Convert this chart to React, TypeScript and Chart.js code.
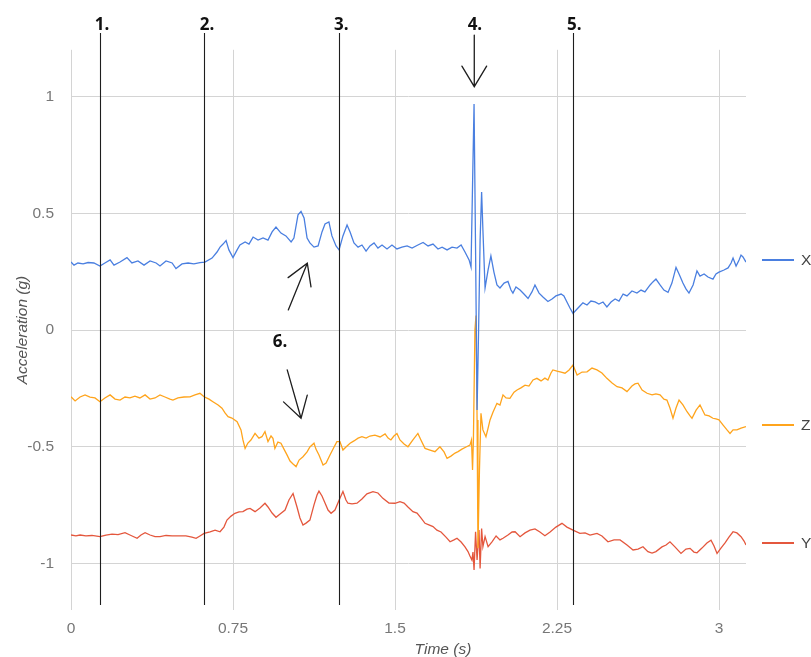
import React, { useEffect, useRef } from "react";
import { Chart, registerables } from "chart.js";

Chart.register(...registerables);

// ---------- data (time in s, acceleration in g) ----------
const xTimes = [
  0, 0.014, 0.032, 0.056, 0.079, 0.106, 0.134, 0.157, 0.181, 0.199,
  0.227, 0.259, 0.282, 0.31, 0.338, 0.366, 0.394, 0.412, 0.44, 0.468,
  0.486, 0.514, 0.542, 0.569, 0.597, 0.62, 0.653, 0.676, 0.69, 0.704,
  0.718, 0.731, 0.75, 0.769, 0.782, 0.806, 0.824, 0.843, 0.866, 0.889,
  0.912, 0.931, 0.949, 0.972, 0.995, 1.019, 1.032, 1.051, 1.065, 1.079,
  1.093, 1.106, 1.125, 1.144, 1.162, 1.176, 1.194, 1.208, 1.227, 1.241,
  1.259, 1.278, 1.292, 1.31, 1.329, 1.347, 1.366, 1.384, 1.403, 1.421,
  1.44, 1.463, 1.486, 1.509, 1.532, 1.556, 1.579, 1.606, 1.63, 1.653,
  1.676, 1.699, 1.718, 1.741, 1.764, 1.787, 1.806, 1.824, 1.843, 1.852,
  1.859, 1.866, 1.873, 1.88, 1.887, 1.894, 1.901, 1.907, 1.917, 1.931,
  1.944, 1.958, 1.972, 1.986, 2.005, 2.023, 2.037, 2.046, 2.06, 2.079,
  2.097, 2.116, 2.134, 2.148, 2.167, 2.185, 2.208, 2.227, 2.245, 2.269,
  2.282, 2.296, 2.31, 2.324, 2.343, 2.356, 2.37, 2.389, 2.407, 2.426,
  2.444, 2.463, 2.481, 2.5, 2.519, 2.537, 2.556, 2.574, 2.597, 2.62,
  2.639, 2.657, 2.681, 2.694, 2.708, 2.727, 2.745, 2.764, 2.782, 2.801,
  2.815, 2.833, 2.847, 2.861, 2.88, 2.898, 2.912, 2.931, 2.949, 2.972,
  2.986, 3.0, 3.023, 3.042, 3.056, 3.065, 3.079, 3.093, 3.102, 3.111,
  3.125,
];
const xValues = [
  0.291, 0.278, 0.287, 0.283, 0.289, 0.287, 0.274, 0.287, 0.3, 0.278,
  0.291, 0.31, 0.287, 0.296, 0.278, 0.296, 0.287, 0.274, 0.296, 0.287,
  0.263, 0.283, 0.287, 0.283, 0.289, 0.291, 0.308, 0.334, 0.355, 0.368,
  0.383, 0.343, 0.31, 0.343, 0.364, 0.377, 0.368, 0.398, 0.385, 0.394,
  0.385, 0.42, 0.441, 0.415, 0.403, 0.377, 0.394, 0.493, 0.508, 0.48,
  0.394, 0.373, 0.355, 0.36, 0.42, 0.454, 0.463, 0.403, 0.36, 0.343,
  0.403, 0.45, 0.42, 0.373, 0.355, 0.364, 0.338, 0.36, 0.373, 0.351,
  0.364, 0.347, 0.364, 0.347, 0.355, 0.36, 0.351, 0.364, 0.375, 0.36,
  0.368, 0.347, 0.355, 0.343, 0.355, 0.351, 0.364, 0.334, 0.3, 0.27,
  0.62, 0.968, 0.343, -0.343, 0.0, 0.385, 0.591, 0.428, 0.18, 0.257,
  0.317, 0.248, 0.193, 0.18, 0.201, 0.208, 0.171, 0.158, 0.184, 0.171,
  0.154, 0.135, 0.163, 0.193, 0.158, 0.141, 0.122, 0.133, 0.146, 0.154,
  0.146, 0.12, 0.094, 0.071, 0.09, 0.103, 0.116, 0.107, 0.124, 0.12,
  0.111, 0.12, 0.099, 0.12, 0.133, 0.124, 0.154, 0.146, 0.167, 0.158,
  0.171, 0.163, 0.193, 0.206, 0.218, 0.193, 0.171, 0.161, 0.201, 0.268,
  0.24, 0.201, 0.176, 0.158, 0.193, 0.253, 0.231, 0.24, 0.227, 0.218,
  0.24, 0.248, 0.257, 0.266, 0.287, 0.308, 0.274, 0.3, 0.321, 0.313,
  0.291,
];

const zTimes = [
  0, 0.019, 0.042, 0.065, 0.088, 0.111, 0.134, 0.157, 0.181, 0.204,
  0.227, 0.25, 0.273, 0.296, 0.319, 0.343, 0.366, 0.389, 0.412, 0.435,
  0.458, 0.472, 0.495, 0.523, 0.551, 0.574, 0.597, 0.616, 0.639, 0.657,
  0.681, 0.699, 0.713, 0.727, 0.745, 0.769, 0.787, 0.796, 0.806, 0.819,
  0.833, 0.852, 0.87, 0.884, 0.898, 0.912, 0.926, 0.935, 0.944, 0.958,
  0.972, 0.986, 1.0, 1.014, 1.028, 1.042, 1.056, 1.074, 1.093, 1.106,
  1.125, 1.134, 1.148, 1.167, 1.181, 1.199, 1.218, 1.231, 1.245, 1.259,
  1.273, 1.292, 1.31, 1.329, 1.347, 1.366, 1.384, 1.407, 1.431, 1.454,
  1.468, 1.481, 1.495, 1.509, 1.523, 1.542, 1.56, 1.583, 1.606, 1.62,
  1.639, 1.662, 1.685, 1.708, 1.727, 1.741, 1.759, 1.778, 1.792, 1.81,
  1.829, 1.847, 1.854, 1.859, 1.863, 1.87, 1.875, 1.88, 1.884, 1.891,
  1.898, 1.907, 1.921, 1.931, 1.94, 1.954, 1.972, 1.986, 2.0, 2.014,
  2.032, 2.051, 2.065, 2.083, 2.102, 2.12, 2.139, 2.157, 2.176, 2.194,
  2.208, 2.222, 2.231, 2.25, 2.269, 2.287, 2.306, 2.324, 2.343, 2.366,
  2.389, 2.412, 2.435, 2.458, 2.481, 2.505, 2.528, 2.551, 2.574, 2.597,
  2.611, 2.625, 2.644, 2.667, 2.69, 2.708, 2.727, 2.745, 2.759, 2.773,
  2.787, 2.801, 2.815, 2.833, 2.852, 2.866, 2.875, 2.894, 2.912, 2.935,
  2.954, 2.972, 2.986, 3.0, 3.019, 3.037, 3.051, 3.065, 3.083, 3.102,
  3.125,
];
const zValues = [
  -0.286, -0.304, -0.287, -0.278, -0.287, -0.291, -0.307, -0.291, -0.278, -0.296,
  -0.3, -0.287, -0.291, -0.283, -0.291, -0.278, -0.296, -0.291, -0.278, -0.287,
  -0.296, -0.3, -0.291, -0.287, -0.286, -0.278, -0.271, -0.286, -0.296, -0.307,
  -0.321, -0.335, -0.355, -0.371, -0.377, -0.393, -0.428, -0.471, -0.507, -0.484,
  -0.471, -0.443, -0.463, -0.457, -0.435, -0.478, -0.454, -0.464, -0.507, -0.48,
  -0.485, -0.51, -0.535, -0.561, -0.574, -0.585, -0.557, -0.543, -0.522, -0.501,
  -0.485, -0.51, -0.535, -0.578, -0.57, -0.535, -0.501, -0.478, -0.478, -0.514,
  -0.501, -0.485, -0.475, -0.463, -0.457, -0.463, -0.454, -0.45, -0.458, -0.445,
  -0.463, -0.471, -0.454, -0.443, -0.471, -0.488, -0.5, -0.471, -0.443, -0.471,
  -0.507, -0.514, -0.521, -0.5, -0.522, -0.55, -0.54, -0.527, -0.521, -0.51,
  -0.501, -0.493, -0.471, -0.6, -0.471, 0.0, 0.062, -0.385, -0.934, -0.6,
  -0.357, -0.428, -0.457, -0.42, -0.385, -0.351, -0.314, -0.321, -0.278, -0.291,
  -0.293, -0.266, -0.257, -0.248, -0.236, -0.24, -0.214, -0.207, -0.218, -0.206,
  -0.214, -0.184, -0.171, -0.176, -0.18, -0.185, -0.171, -0.15, -0.193, -0.18,
  -0.179, -0.163, -0.171, -0.184, -0.207, -0.227, -0.243, -0.248, -0.264, -0.24,
  -0.231, -0.228, -0.257, -0.271, -0.278, -0.274, -0.278, -0.296, -0.3, -0.334,
  -0.378, -0.334, -0.3, -0.321, -0.35, -0.368, -0.378, -0.343, -0.321, -0.364,
  -0.368, -0.378, -0.381, -0.385, -0.407, -0.428, -0.443, -0.428, -0.428, -0.42,
  -0.414,
];

const yTimes = [
  0, 0.023, 0.042, 0.069, 0.097, 0.134, 0.162, 0.19, 0.218, 0.25,
  0.273, 0.306, 0.324, 0.343, 0.366, 0.389, 0.412, 0.44, 0.468, 0.505,
  0.532, 0.56, 0.579, 0.597, 0.616, 0.644, 0.667, 0.69, 0.708, 0.722,
  0.741, 0.759, 0.778, 0.796, 0.815, 0.829, 0.852, 0.875, 0.898, 0.912,
  0.931, 0.949, 0.968, 0.991, 1.009, 1.028, 1.046, 1.06, 1.074, 1.088,
  1.106, 1.125, 1.139, 1.148, 1.162, 1.176, 1.19, 1.204, 1.222, 1.245,
  1.259, 1.273, 1.282, 1.301, 1.324, 1.347, 1.37, 1.398, 1.421, 1.444,
  1.472, 1.5, 1.523, 1.542, 1.56, 1.583, 1.602, 1.62, 1.639, 1.657,
  1.676, 1.694, 1.713, 1.736, 1.755, 1.773, 1.787, 1.806, 1.824, 1.838,
  1.847, 1.856, 1.861, 1.866, 1.873, 1.88, 1.889, 1.894, 1.901, 1.907,
  1.917, 1.931, 1.949, 1.968, 1.986, 2.0, 2.023, 2.042, 2.056, 2.079,
  2.102, 2.125, 2.148, 2.171, 2.194, 2.218, 2.245, 2.273, 2.296, 2.324,
  2.356, 2.38, 2.403, 2.435, 2.458, 2.486, 2.514, 2.542, 2.574, 2.602,
  2.625, 2.648, 2.671, 2.69, 2.708, 2.736, 2.755, 2.773, 2.796, 2.824,
  2.847, 2.866, 2.884, 2.898, 2.921, 2.944, 2.963, 2.977, 2.991, 3.009,
  3.028, 3.046, 3.065, 3.083, 3.102, 3.116, 3.125,
];
const yValues = [
  -0.878, -0.882, -0.878, -0.882, -0.88, -0.885, -0.878, -0.874, -0.876, -0.868,
  -0.878, -0.892, -0.878, -0.868, -0.878, -0.885, -0.885, -0.88, -0.882, -0.882,
  -0.882, -0.887, -0.892, -0.882, -0.871, -0.865, -0.857, -0.864, -0.844, -0.814,
  -0.797, -0.785, -0.779, -0.778, -0.767, -0.764, -0.778, -0.762, -0.742, -0.758,
  -0.784, -0.802, -0.788, -0.771, -0.728, -0.7, -0.757, -0.805, -0.835, -0.827,
  -0.814, -0.749, -0.707, -0.69, -0.711, -0.741, -0.771, -0.785, -0.771, -0.721,
  -0.692, -0.728, -0.742, -0.745, -0.742, -0.724, -0.702, -0.692, -0.698, -0.721,
  -0.741, -0.742, -0.735, -0.741, -0.758, -0.778, -0.784, -0.805, -0.828, -0.835,
  -0.842, -0.857, -0.865, -0.887, -0.907, -0.899, -0.892, -0.908, -0.929, -0.949,
  -0.968, -0.985, -0.951, -1.028, -0.864, -0.985, -0.857, -1.021, -0.85, -0.928,
  -0.885, -0.928, -0.907, -0.882, -0.899, -0.892, -0.878, -0.865, -0.864, -0.885,
  -0.869, -0.857, -0.852, -0.865, -0.881, -0.865, -0.844, -0.828, -0.844, -0.857,
  -0.871, -0.869, -0.878, -0.871, -0.882, -0.907, -0.899, -0.899, -0.921, -0.942,
  -0.938, -0.928, -0.949, -0.955, -0.949, -0.929, -0.921, -0.907, -0.929, -0.957,
  -0.938, -0.935, -0.951, -0.954, -0.934, -0.912, -0.9, -0.925, -0.957, -0.934,
  -0.912, -0.887, -0.864, -0.869, -0.885, -0.904, -0.921,
];

const seriesNames = ["X", "Z", "Y"];
const seriesColors = ["#4a7fe0", "#ffa41c", "#e4573d"];

// axes
const xAxisTicks = [0, 0.75, 1.5, 2.25, 3];
const xAxisTickLabels = ["0", "0.75", "1.5", "2.25", "3"];
const yAxisTicks = [-1, -0.5, 0, 0.5, 1];
const yAxisTickLabels = ["-1", "-0.5", "0", "0.5", "1"];
const xAxisTitle = "Time (s)";
const yAxisTitle = "Acceleration (g)";
const xAxisTitleAt = 1.722; // centre of the x title, in seconds

// annotations (data units)
const markerTimes = [0.134, 0.617, 1.241, 2.325];
const markerTop = 1.272;
const markerBottom = -1.178;
const noteLabels = ["1.", "2.", "3.", "4.", "5.", "6."];
const noteLabelTimes = [0.144, 0.63, 1.251, 1.87, 2.33, 0.968];
const noteLabelValues = [1.285, 1.285, 1.285, 1.285, 1.285, -0.0715];
const arrowFromT = [1.867, 1.006, 1.001];
const arrowFromV = [1.263, 0.086, -0.171];
const arrowToT = [1.867, 1.094, 1.065];
const arrowToV = [1.042, 0.286, -0.378];

const toPoints = (ts: number[], vs: number[]) => ts.map((t, i) => ({ x: t, y: vs[i] }));

const TEXT_FONT = '"Liberation Sans", Arial, sans-serif';

const annotationPlugin = {
  id: "annotations",
  afterDraw(chart: any) {
    const { ctx, chartArea, scales } = chart;
    const xs = scales.x;
    const ys = scales.y;
    ctx.save();

    // vertical marker lines
    ctx.strokeStyle = "#1e1e1e";
    ctx.lineWidth = 1.1;
    markerTimes.forEach((t) => {
      const px = Math.round(xs.getPixelForValue(t)) + 0.5;
      ctx.beginPath();
      ctx.moveTo(px, ys.getPixelForValue(markerTop));
      ctx.lineTo(px, ys.getPixelForValue(markerBottom));
      ctx.stroke();
    });

    // arrows
    ctx.lineWidth = 1.3;
    ctx.lineCap = "round";
    arrowFromT.forEach((_, i) => {
      const x0 = xs.getPixelForValue(arrowFromT[i]);
      const y0 = ys.getPixelForValue(arrowFromV[i]);
      const x1 = xs.getPixelForValue(arrowToT[i]);
      const y1 = ys.getPixelForValue(arrowToV[i]);
      ctx.beginPath();
      ctx.moveTo(x0, y0);
      ctx.lineTo(x1, y1);
      const ang = Math.atan2(y0 - y1, x0 - x1);
      const wing = 24;
      const spread = (31 * Math.PI) / 180;
      ctx.moveTo(x1 + wing * Math.cos(ang + spread), y1 + wing * Math.sin(ang + spread));
      ctx.lineTo(x1, y1);
      ctx.lineTo(x1 + wing * Math.cos(ang - spread), y1 + wing * Math.sin(ang - spread));
      ctx.stroke();
    });

    // labels
    ctx.fillStyle = "#111";
    ctx.font = 'bold 17px "Open Sans", "DejaVu Sans", sans-serif';
    ctx.textAlign = "center";
    ctx.textBaseline = "alphabetic";
    noteLabels.forEach((lab, i) => {
      ctx.fillText(lab, xs.getPixelForValue(noteLabelTimes[i]), ys.getPixelForValue(noteLabelValues[i]));
    });

    // x axis title
    ctx.fillStyle = "#555";
    ctx.font = `italic 15.5px ${TEXT_FONT}`;
    ctx.textAlign = "center";
    ctx.fillText(xAxisTitle, xs.getPixelForValue(xAxisTitleAt), chartArea.bottom + 43.8);

    // right-hand labelled legend
    const lasts = [xValues[xValues.length - 1], zValues[zValues.length - 1], yValues[yValues.length - 1]];
    ctx.textAlign = "left";
    ctx.textBaseline = "middle";
    ctx.font = `15.5px ${TEXT_FONT}`;
    seriesNames.forEach((name, i) => {
      const py = Math.round(ys.getPixelForValue(lasts[i])) - 2;
      ctx.strokeStyle = seriesColors[i];
      ctx.lineWidth = 2;
      ctx.lineCap = "butt";
      ctx.beginPath();
      ctx.moveTo(chartArea.right + 16, py);
      ctx.lineTo(chartArea.right + 48, py);
      ctx.stroke();
      ctx.fillStyle = "#444";
      ctx.fillText(name, chartArea.right + 55, py + 1);
    });

    ctx.restore();
  },
};

export default function App() {
  const ref = useRef<HTMLCanvasElement | null>(null);

  useEffect(() => {
    document.body.style.margin = "0";
    const canvas = ref.current;
    if (!canvas) return;
    const values = [xValues, zValues, yValues];
    const times = [xTimes, zTimes, yTimes];
    const chart = new Chart(canvas, {
      type: "line",
      data: {
        datasets: seriesNames.map((name, i) => ({
          label: name,
          data: toPoints(times[i], values[i]),
          borderColor: seriesColors[i],
          backgroundColor: seriesColors[i],
          borderWidth: 1.3,
          pointRadius: 0,
          tension: 0,
          fill: false,
        })),
      },
      options: {
        animation: false,
        responsive: false,
        devicePixelRatio: 1,
        events: [],
        layout: { padding: { top: 49.8, right: 65, bottom: 0, left: 0 } },
        plugins: {
          legend: { display: false },
          tooltip: { enabled: false },
        },
        scales: {
          x: {
            type: "linear",
            min: 0,
            max: 3.125,
            border: { display: false },
            grid: { color: "#d4d4d4", drawTicks: false, lineWidth: 1 },
            afterBuildTicks: (s: any) => {
              s.ticks = xAxisTicks.map((v) => ({ value: v }));
            },
            afterFit: (s: any) => {
              s.height = 46.8;
            },
            ticks: {
              autoSkip: false,
              maxRotation: 0,
              padding: 9,
              color: "#777",
              font: { family: TEXT_FONT, size: 15.5 },
              callback: (_v: any, i: number) => xAxisTickLabels[i],
            },
          },
          y: {
            type: "linear",
            min: -1.2,
            max: 1.2,
            border: { display: false },
            grid: { color: "#d4d4d4", drawTicks: false, lineWidth: 1 },
            afterBuildTicks: (s: any) => {
              s.ticks = yAxisTicks.map((v) => ({ value: v }));
            },
            afterFit: (s: any) => {
              s.width = 71;
            },
            ticks: {
              padding: 17,
              color: "#777",
              font: { family: TEXT_FONT, size: 15.5 },
              callback: (_v: any, i: number) => yAxisTickLabels[i],
            },
            title: {
              display: true,
              text: yAxisTitle,
              color: "#555",
              font: { family: TEXT_FONT, size: 15.5, style: "italic" },
              padding: { top: 13, bottom: 0 },
            },
          },
        },
      },
      plugins: [annotationPlugin],
    } as any);
    return () => chart.destroy();
  }, []);

  return (
    <div style={{ position: "absolute", left: 0, top: 0, width: 811, height: 657 }}>
      <canvas ref={ref} width={811} height={657} style={{ display: "block" }} />
    </div>
  );
}
